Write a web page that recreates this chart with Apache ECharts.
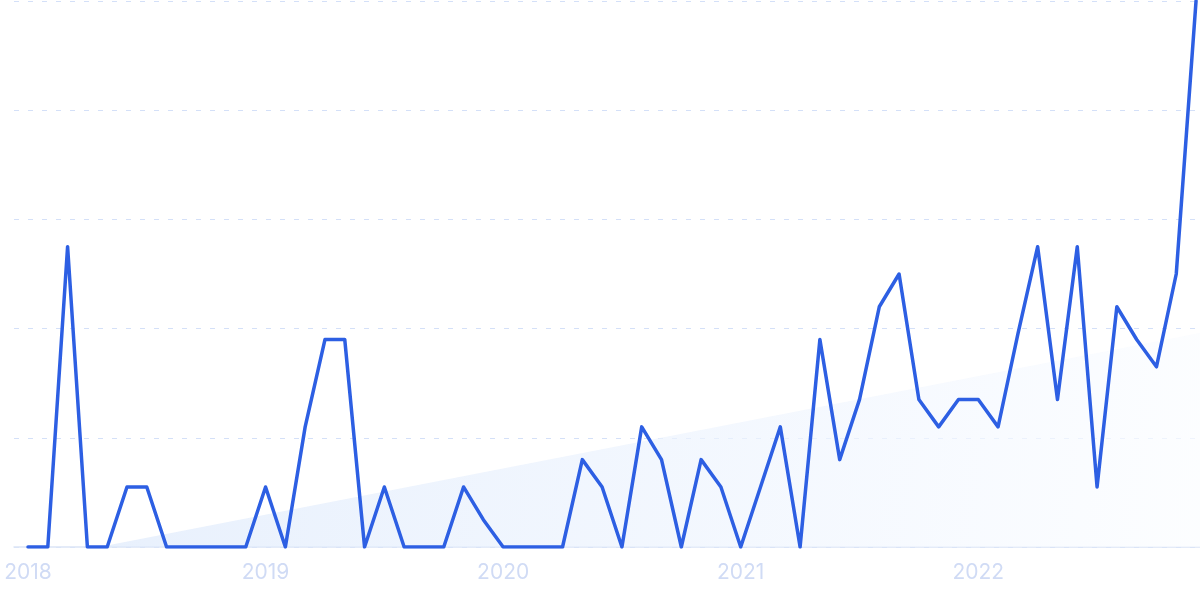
<!DOCTYPE html>
<html>
<head>
<meta charset="utf-8">
<script src="https://cdn.jsdelivr.net/npm/echarts@6/dist/echarts.min.js"></script>
<style>
  html, body { margin: 0; padding: 0; background: #ffffff; }
  #chart { width: 1200px; height: 599px; }
</style>
</head>
<body>
<div id="chart"></div>
<script>
// Year tick labels (one per January, month index 0, 12, 24, 36, 48)
const yearLabels = ['2018', '2019', '2020', '2021', '2022'];
const yearTickIndex = [0, 12, 24, 36, 48];

// Monthly values, Jan 2018 .. Dec 2022 (relative interest, 0-100)
const monthlyValues = [
  0, 0, 55, 0, 0, 11, 11, 0, 0, 0, 0, 0,          // 2018
  11, 0, 22, 38, 38, 0, 11, 0, 0, 0, 11, 5,       // 2019
  0, 0, 0, 0, 16, 11, 0, 22, 16, 0, 16, 11,       // 2020
  0, 11, 22, 0, 38, 16, 27, 44, 50, 27, 22, 27,   // 2021
  27, 22, 39, 55, 27, 55, 11, 44, 38, 33, 50, 100 // 2022
];

// Trend area end points: [month index, value]
const trendPoints = [[3.6, 0], [59.2, 39.2]];

const lineData = monthlyValues.map((v, i) => [i, v]);

const chart = echarts.init(document.getElementById('chart'), null, { renderer: 'canvas' });
chart.setOption({
  animation: false,
  grid: { left: 14, right: 0, top: 1, bottom: 52 },
  xAxis: {
    type: 'value',
    min: -0.707,
    max: 59.2,
    axisLine: { show: true, lineStyle: { color: '#dce5f6', width: 1.5 } },
    axisTick: { show: false },
    splitLine: { show: false },
    axisLabel: {
      customValues: yearTickIndex,
      formatter: function (v) {
        const k = yearTickIndex.indexOf(Math.round(v));
        return k >= 0 ? yearLabels[k] : '';
      },
      color: '#d0dbf5',
      fontSize: 21,
      fontFamily: 'Inter',
      margin: 15
    }
  },
  yAxis: {
    type: 'value',
    min: 0,
    max: 100,
    interval: 20,
    axisLine: { show: false },
    axisTick: { show: false },
    axisLabel: { show: false },
    splitLine: {
      show: true,
      lineStyle: { color: '#d4e0f8', width: 1.2, type: [5, 9] }
    }
  },
  series: [
    {
      type: 'line',
      data: trendPoints,
      showSymbol: false,
      silent: true,
      z: 1,
      lineStyle: { width: 0, opacity: 0 },
      areaStyle: {
        color: new echarts.graphic.LinearGradient(0, 0, 1, 0.6, [
          { offset: 0, color: '#dde9fb' },
          { offset: 1, color: '#fafcff' }
        ])
      }
    },
    {
      type: 'line',
      data: lineData,
      showSymbol: false,
      z: 3,
      lineStyle: { color: '#2d5fe3', width: 3.5, join: 'round', cap: 'round' }
    }
  ]
});
</script>
</body>
</html>
